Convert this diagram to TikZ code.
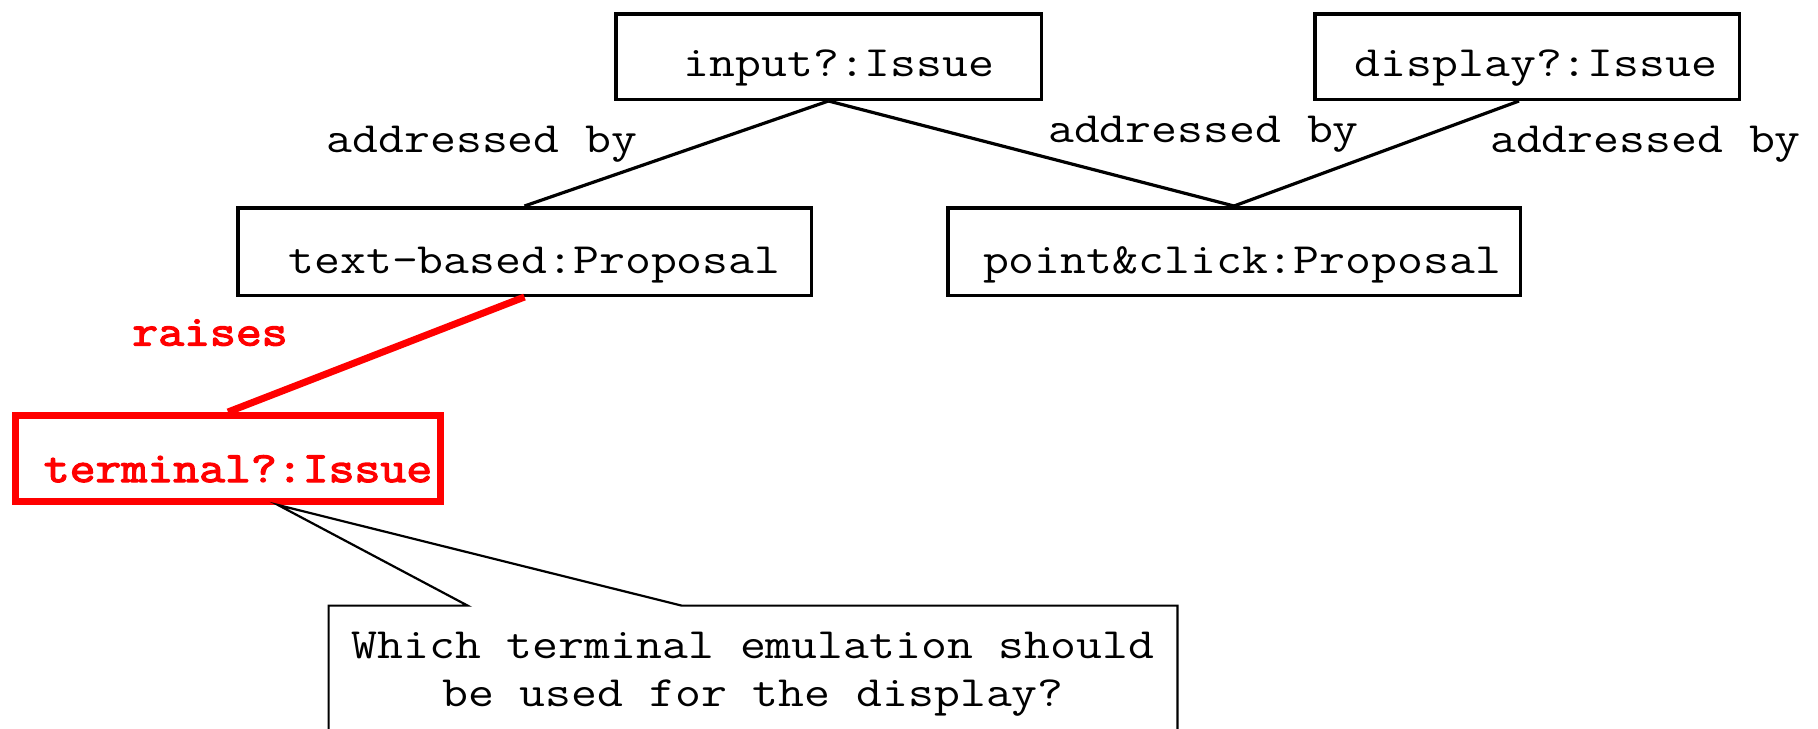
\documentclass[tikz,border=0pt]{standalone}
\usepackage{fontspec}
\newfontfamily\codefont[FakeStretch=1.164]{Latin Modern Mono}
\newfontfamily\codeboldfont[FakeStretch=1.164,FakeBold=3]{Latin Modern Mono}
\usetikzlibrary{calc}
\definecolor{issuered}{RGB}{255,0,0}
\begin{document}
\begin{tikzpicture}[x=0.5pt,y=-0.5pt,
  box/.style={draw=black, line width=1.75pt, rectangle, inner sep=0pt},
  issuebox/.style={draw=issuered, line width=3.5pt, rectangle, inner sep=0pt},
  txt/.style={font=\codefont\fontsize{21.6pt}{24.25pt}\selectfont, inner sep=0pt, anchor=base},
  redtxt/.style={txt, text=issuered, font=\codeboldfont\fontsize{21.6pt}{24.25pt}\selectfont},
  link/.style={draw=black, line width=1.6pt},
  raiselink/.style={draw=issuered, line width=3.5pt},
  notebox/.style={rectangle, inner sep=0pt, align=center,
    font=\codefont\fontsize{21.6pt}{24.25pt}\selectfont,
    minimum width=424pt, minimum height=68pt},
  noteline/.style={draw=black, line width=1.1pt, line join=miter}
]
\useasboundingbox (0,0) rectangle (1818,728);
\clip (0,0) rectangle (1818,728);

% element boxes
\node[box, minimum width=212.75pt, minimum height=42.75pt] (inbox) at (828.5,56.5) {};
\node[box, minimum width=212.25pt, minimum height=42.75pt] (dispbox) at (1527,56.5) {};
\node[box, minimum width=286.75pt, minimum height=43.75pt] (tbbox) at (524.5,251.5) {};
\node[box, minimum width=286.25pt, minimum height=43.75pt] (pcbox) at (1234,251.5) {};
\node[issuebox, minimum width=212.5pt, minimum height=43pt] (termbox) at (228,458.5) {};

% box titles
\node[txt] (intext) at (839,76.5) {input?:Issue};
\node[txt] (disptext) at (1536,76.5) {display?:Issue};
\node[txt] (tbtext) at (534.5,273.6) {text-based:Proposal};
\node[txt] (pctext) at (1242,273.6) {point\&click:Proposal};
\node[redtxt] (termtext) at (238,482) {terminal?:Issue};

% relations
\draw[link] (inbox.south) -- (tbbox.north);
\draw[link] (inbox.south) -- (pcbox.north);
\draw[link] ([xshift=-4pt]dispbox.south) -- (pcbox.north);
\draw[raiselink] (tbbox.south) -- (termbox.north);

% relation labels
\node[txt] (lab1) at (482,152) {addressed by};
\node[txt] (lab2) at (1203.5,142.6) {addressed by};
\node[txt] (lab3) at (1645.5,152) {addressed by};
\node[redtxt] (lab4) at (210,345.5) {raises};

% annotation callout
\node[notebox] (note) at (753,674) {Which terminal emulation should\\be used for the display?};
\draw[noteline] (note.south west) -- (note.north west) -- ++(139,0)
  -- ([xshift=25pt]termbox.south) -- ($(note.north west)+(353,0)$)
  -- (note.north east) -- (note.south east);
\end{tikzpicture}
\end{document}
